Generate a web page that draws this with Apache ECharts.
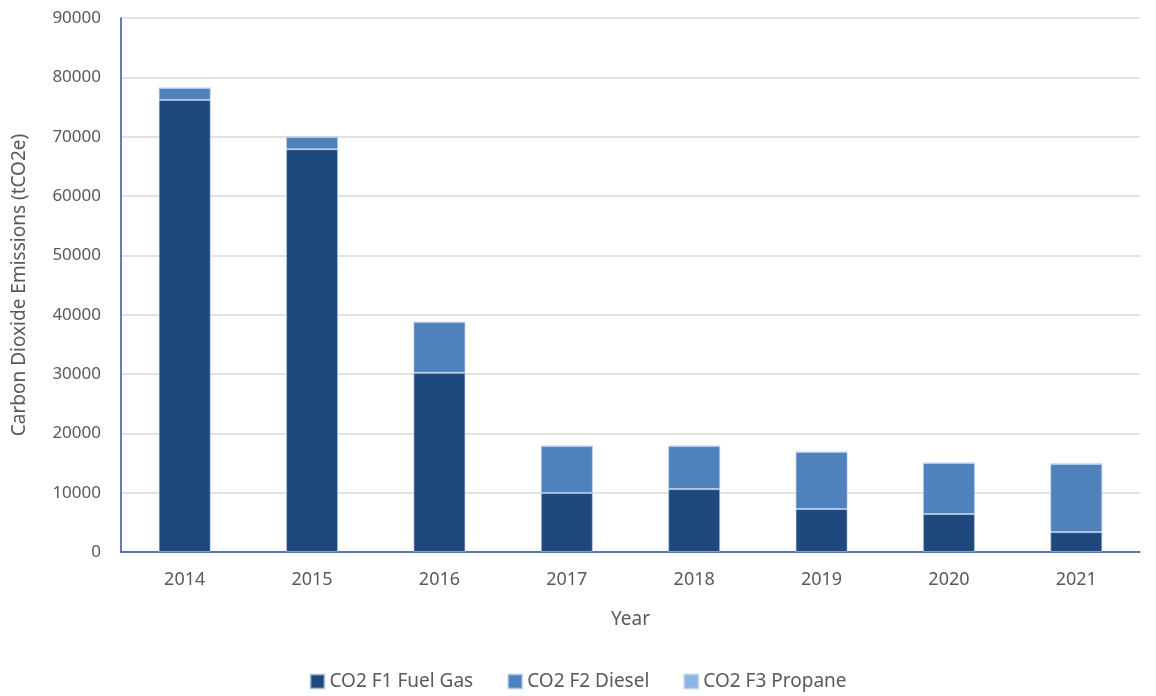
<!DOCTYPE html>
<html>
<head>
<meta charset="utf-8">
<script src="https://cdn.jsdelivr.net/npm/echarts@6/dist/echarts.min.js"></script>
<style>html,body{margin:0;padding:0;background:#fff;}#c{width:1156px;height:696px;}</style>
</head>
<body>
<div id="c"></div>
<script>
var years = ['2014','2015','2016','2017','2018','2019','2020','2021'];
var fuelGas = [76200, 67900, 30200, 9950, 10600, 7250, 6400, 3350];
var diesel = [2000, 2050, 8550, 7900, 7250, 9600, 8600, 11500];
var propane = [0, 0, 0, 0, 0, 0, 0, 0];

var font = 'Noto Sans';
var chart = echarts.init(document.getElementById('c'));
function bar(name, data, color) {
  return {
    name: name, type: 'bar', stack: 'total', data: data, barWidth: 52,
    itemStyle: { color: color, borderColor: 'rgba(180,205,235,0.6)', borderWidth: 1 }
  };
}
chart.setOption({
  animation: false,
  textStyle: { fontFamily: font },
  grid: { left: 121, right: 16, top: 18, bottom: 144, containLabel: false, outerBoundsMode: 'none' },
  legend: {
    bottom: 0, left: 'center', itemWidth: 14, itemHeight: 14, itemGap: 34,
    icon: 'rect',
    textStyle: { fontFamily: font, fontSize: 19, color: '#595959' },
    data: ['CO2 F1 Fuel Gas', 'CO2 F2 Diesel', 'CO2 F3 Propane']
  },
  xAxis: {
    type: 'category', data: years,
    name: 'Year', nameLocation: 'middle', nameGap: 58,
    nameTextStyle: { fontSize: 19, color: '#595959' },
    axisLine: { lineStyle: { color: '#2F5597', width: 1.5 } },
    axisTick: { show: false },
    axisLabel: { fontSize: 18, color: '#595959', margin: 19 }
  },
  yAxis: {
    type: 'value', min: 0, max: 90000, interval: 10000,
    name: 'Carbon Dioxide Emissions (tCO2e)', nameLocation: 'middle', nameGap: 92,
    nameTextStyle: { fontSize: 19, color: '#595959' },
    axisLine: { show: true, lineStyle: { color: '#2F5597', width: 1.5 } },
    axisTick: { show: false },
    axisLabel: { fontSize: 17, color: '#595959', margin: 20, formatter: function (v) { return String(v); } },
    splitLine: { lineStyle: { color: '#D9D9D9', width: 1.5 } }
  },
  series: [
    bar('CO2 F1 Fuel Gas', fuelGas, '#1F497D'),
    bar('CO2 F2 Diesel', diesel, '#4F81BD'),
    bar('CO2 F3 Propane', propane, '#8EB4E3')
  ]
});
</script>
</body>
</html>
